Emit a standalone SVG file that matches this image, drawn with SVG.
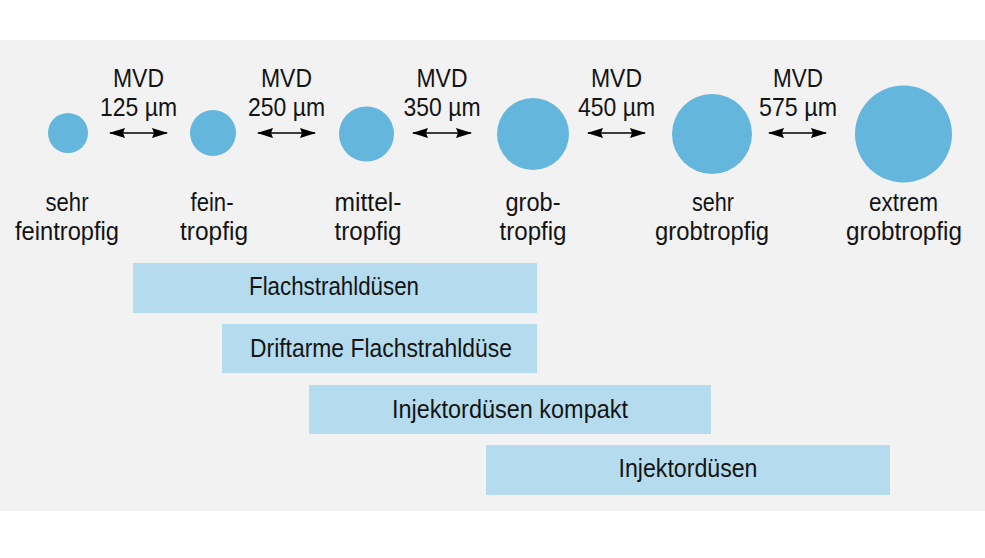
<svg xmlns="http://www.w3.org/2000/svg" width="985" height="558" viewBox="0 0 985 558">
  <style>
    text { font-family: "Liberation Sans", Arial, sans-serif; font-size: 25.5px; fill: #141414; text-anchor: middle; }
    .drop { fill: #64b6dd; }
    .bar { fill: #b4dcee; }
    .arr { stroke: #000; stroke-width: 1.6; fill: none; marker-start: url(#ah); marker-end: url(#ah); }
  </style>
  <defs>
    <marker id="ah" viewBox="0 0 16 10" refX="15" refY="5" markerWidth="16" markerHeight="10" markerUnits="userSpaceOnUse" orient="auto-start-reverse">
      <path d="M0,0 L16,5 L0,10 L2,5 z" fill="#000"/>
    </marker>
  </defs>
  <rect x="0" y="0" width="985" height="558" fill="#ffffff"/>
  <rect id="panel" x="0" y="40" width="985" height="471" fill="#f2f2f2"/>

  <g id="node-sehr-feintropfig">
    <circle class="drop" cx="68" cy="133" r="20"/>
    <text x="67" y="211" textLength="43" lengthAdjust="spacingAndGlyphs">sehr</text>
    <text x="67" y="240" textLength="104" lengthAdjust="spacingAndGlyphs">feintropfig</text>
  </g>
  <g id="node-feintropfig">
    <circle class="drop" cx="213" cy="133" r="23"/>
    <text x="212" y="211" textLength="43" lengthAdjust="spacingAndGlyphs">fein-</text>
    <text x="214" y="240" textLength="68" lengthAdjust="spacingAndGlyphs">tropfig</text>
  </g>
  <g id="node-mitteltropfig">
    <circle class="drop" cx="366.5" cy="134" r="27.5"/>
    <text x="368" y="211" textLength="67" lengthAdjust="spacingAndGlyphs">mittel-</text>
    <text x="368" y="240" textLength="67" lengthAdjust="spacingAndGlyphs">tropfig</text>
  </g>
  <g id="node-grobtropfig">
    <circle class="drop" cx="533" cy="134" r="36"/>
    <text x="533" y="211" textLength="55" lengthAdjust="spacingAndGlyphs">grob-</text>
    <text x="533" y="240" textLength="67" lengthAdjust="spacingAndGlyphs">tropfig</text>
  </g>
  <g id="node-sehr-grobtropfig">
    <circle class="drop" cx="712" cy="134" r="40"/>
    <text x="713" y="211" textLength="42" lengthAdjust="spacingAndGlyphs">sehr</text>
    <text x="712" y="240" textLength="114" lengthAdjust="spacingAndGlyphs">grobtropfig</text>
  </g>
  <g id="node-extrem-grobtropfig">
    <circle class="drop" cx="903.5" cy="134" r="48.5"/>
    <text x="903.5" y="211" textLength="69" lengthAdjust="spacingAndGlyphs">extrem</text>
    <text x="904" y="240" textLength="116" lengthAdjust="spacingAndGlyphs">grobtropfig</text>
  </g>

  <g id="connectors">
    <line class="arr" x1="110" y1="133" x2="167" y2="133"/>
    <line class="arr" x1="258" y1="133" x2="315" y2="133"/>
    <line class="arr" x1="413" y1="133" x2="471" y2="133"/>
    <line class="arr" x1="588" y1="133" x2="645" y2="133"/>
    <line class="arr" x1="769" y1="133" x2="826" y2="133"/>
  </g>
  <g id="connector-labels">
    <text x="138.5" y="87" textLength="51" lengthAdjust="spacingAndGlyphs">MVD</text>
    <text x="138.5" y="116" textLength="77" lengthAdjust="spacingAndGlyphs">125 µm</text>
    <text x="286.5" y="87" textLength="51" lengthAdjust="spacingAndGlyphs">MVD</text>
    <text x="286.5" y="116" textLength="77" lengthAdjust="spacingAndGlyphs">250 µm</text>
    <text x="442" y="87" textLength="51" lengthAdjust="spacingAndGlyphs">MVD</text>
    <text x="442" y="116" textLength="77" lengthAdjust="spacingAndGlyphs">350 µm</text>
    <text x="616.5" y="87" textLength="51" lengthAdjust="spacingAndGlyphs">MVD</text>
    <text x="616.5" y="116" textLength="77" lengthAdjust="spacingAndGlyphs">450 µm</text>
    <text x="798" y="87" textLength="50" lengthAdjust="spacingAndGlyphs">MVD</text>
    <text x="798" y="116" textLength="78" lengthAdjust="spacingAndGlyphs">575 µm</text>
  </g>

  <g id="bar-flachstrahlduesen">
    <rect class="bar" x="133" y="263" width="404" height="50"/>
    <text x="334" y="295" textLength="170" lengthAdjust="spacingAndGlyphs">Flachstrahldüsen</text>
  </g>
  <g id="bar-driftarme">
    <rect class="bar" x="222" y="324" width="315" height="49"/>
    <text x="381" y="357" textLength="262" lengthAdjust="spacingAndGlyphs">Driftarme Flachstrahldüse</text>
  </g>
  <g id="bar-injektor-kompakt">
    <rect class="bar" x="309" y="385" width="402" height="49"/>
    <text x="510" y="418" textLength="236" lengthAdjust="spacingAndGlyphs">Injektordüsen kompakt</text>
  </g>
  <g id="bar-injektor">
    <rect class="bar" x="486" y="445" width="404" height="50"/>
    <text x="688" y="477" textLength="139" lengthAdjust="spacingAndGlyphs">Injektordüsen</text>
  </g>
</svg>
